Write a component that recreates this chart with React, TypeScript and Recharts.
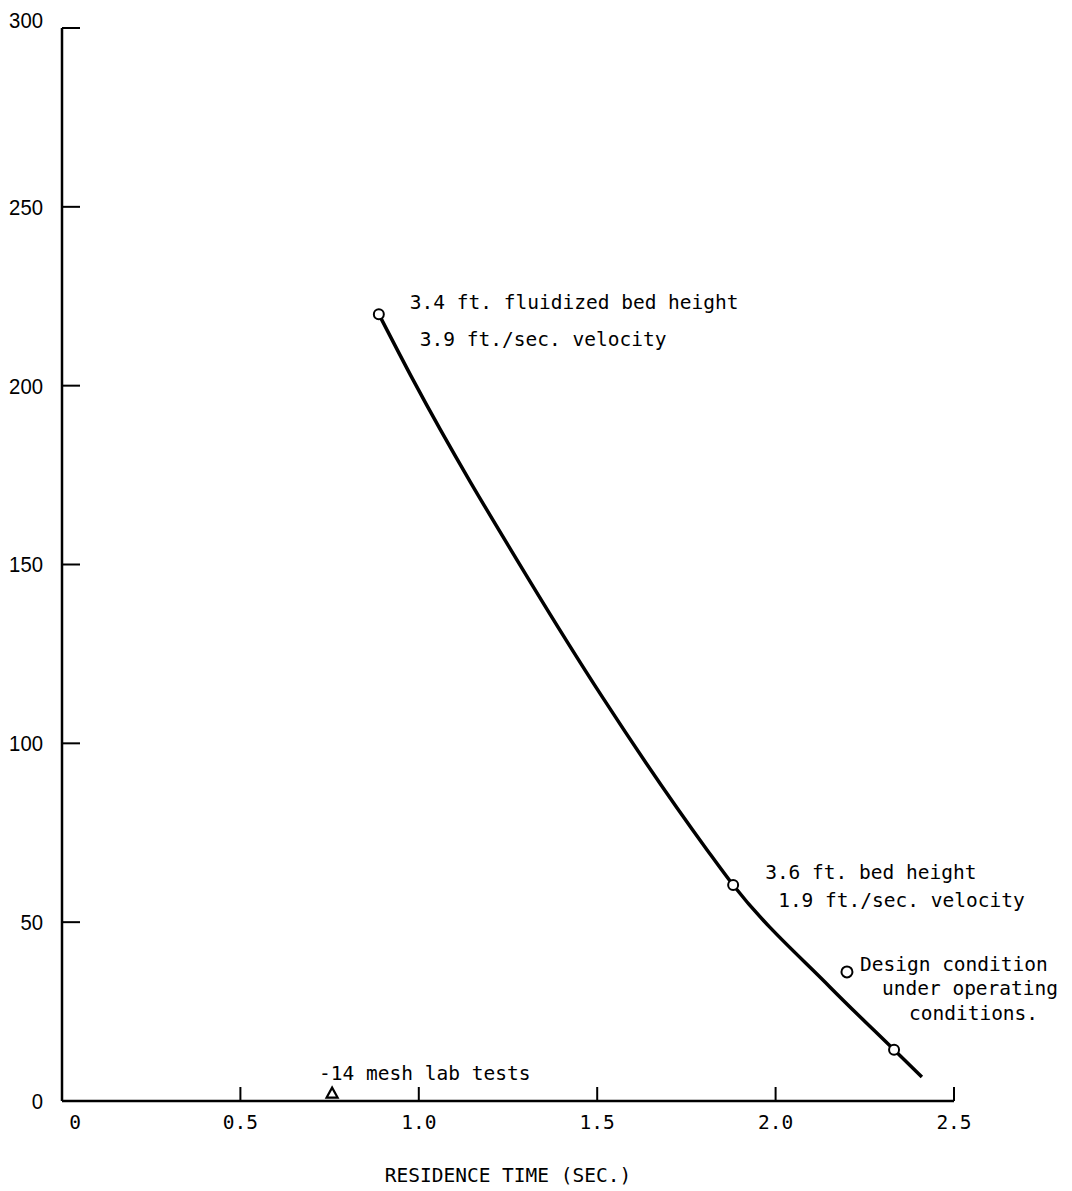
import React from "react";
import {
  ComposedChart,
  Line,
  Scatter,
  XAxis,
  YAxis,
  ReferenceDot,
} from "recharts";

// ---- data ----
const curveX = [0.888, 0.984, 1.306, 1.516, 1.808, 1.881, 2.152, 2.332, 2.41];
const curveY = [220, 201.6, 146.2, 112.7, 70.2, 60.4, 31.9, 14.3, 6.7];

const testX = [0.888, 1.881, 2.332];
const testY = [220, 60.4, 14.3];

const designX = [2.2];
const designY = [36.1];

const labX = [0.757];
const labY = [2.2];

const xTicks = [0, 0.5, 1.0, 1.5, 2.0, 2.5];
const xTickLabels = ["0", "0.5", "1.0", "1.5", "2.0", "2.5"];
const yTicks = [0, 50, 100, 150, 200, 250, 300];
const yTickLabels = ["0", "50", "100", "150", "200", "250", "300"];

const xTitle = "RESIDENCE TIME (SEC.)";

const annot1 = ["3.4 ft. fluidized bed height", "3.9 ft./sec. velocity"];
const annot2 = ["3.6 ft. bed height", "1.9 ft./sec. velocity"];
const annot3 = ["Design condition", "under operating", "conditions."];
const annot4 = ["-14 mesh lab tests"];

// ---- built tables ----
const curveData = curveX.map((x, i) => ({ x, y: curveY[i] }));
const testData = testX.map((x, i) => ({ x, y: testY[i] }));
const designData = designX.map((x, i) => ({ x, y: designY[i] }));
const labData = labX.map((x, i) => ({ x, y: labY[i] }));

const MONO = "'DejaVu Sans Mono', monospace";
const SANS = "'Liberation Sans', Arial, sans-serif";

const YTick = (props: any) => {
  const { x, y, payload } = props;
  const idx = yTicks.indexOf(payload.value);
  const label = idx >= 0 ? yTickLabels[idx] : String(payload.value);
  const dy = payload.value === 300 ? -8 : 0;
  return (
    <g>
      <line x1={x} y1={y} x2={x + 18} y2={y} stroke="#000" strokeWidth={2} />
      <text
        x={x - 19}
        y={y + dy}
        dy="0.36em"
        textAnchor="end"
        fontFamily={SANS}
        fontSize={22}
        fill="#000"
        textLength={label.length * 11.3}
        lengthAdjust="spacingAndGlyphs"
      >
        {label}
      </text>
    </g>
  );
};

const XTick = (props: any) => {
  const { x, y, payload } = props;
  const idx = xTicks.indexOf(payload.value);
  const label = idx >= 0 ? xTickLabels[idx] : String(payload.value);
  const dx = payload.value === 0 ? 13 : 0;
  return (
    <g>
      {payload.value !== 0 && (
        <line x1={x} y1={y} x2={x} y2={y - 14} stroke="#000" strokeWidth={2} />
      )}
      <text
        x={x + dx}
        y={y + 21}
        dy="0.36em"
        textAnchor="middle"
        fontFamily={MONO}
        fontSize={19.5}
        fill="#000"
      >
        {label}
      </text>
    </g>
  );
};

const makeAnnot =
  (lines: string[], offsets: { dx: number; dy: number }[]) => (props: any) => {
    const vb = props.viewBox || {};
    const cx = (vb.x || 0) + (vb.width || 0) / 2;
    const cy = (vb.y || 0) + (vb.height || 0) / 2;
    return (
      <g>
        {lines.map((t, i) => (
          <text
            key={i}
            x={cx + offsets[i].dx}
            y={cy + offsets[i].dy}
            dy="0.36em"
            textAnchor="start"
            fontFamily={MONO}
            fontSize={19.5}
            fill="#000"
          >
            {t}
          </text>
        ))}
      </g>
    );
  };

const HollowCircle = (r: number) => (props: any) => {
  const { cx, cy } = props;
  return <circle cx={cx} cy={cy} r={r} fill="#fff" stroke="#000" strokeWidth={2} />;
};

const HollowTriangle = (props: any) => {
  const { cx, cy } = props;
  const s = 5.5;
  const pts = `${cx},${cy - s} ${cx + s},${cy + s * 0.8} ${cx - s},${cy + s * 0.8}`;
  return <polygon points={pts} fill="#fff" stroke="#000" strokeWidth={2.2} />;
};

export default function App() {
  return (
    <div style={{ width: 1056, height: 1183, background: "#fff" }}>
      <ComposedChart
        width={1056}
        height={1183}
        margin={{ top: 20, right: 110, left: 4, bottom: 30 }}
      >
        <XAxis
          dataKey="x"
          type="number"
          domain={[0, 2.5]}
          ticks={xTicks}
          tick={<XTick />}
          tickLine={false}
          tickSize={0}
          tickMargin={0}
          height={60}
          axisLine={{ stroke: "#000", strokeWidth: 2.5 }}
          allowDataOverflow
          label={{
            value: xTitle,
            position: "bottom",
            offset: 7,
            fontFamily: MONO,
            fontSize: 19.5,
            fill: "#000",
          }}
        />
        <YAxis
          dataKey="y"
          type="number"
          domain={[0, 300]}
          ticks={yTicks}
          tick={<YTick />}
          tickLine={false}
          tickSize={0}
          tickMargin={0}
          width={50}
          axisLine={{ stroke: "#000", strokeWidth: 2.5 }}
          allowDataOverflow
        />
        <Line
          data={curveData}
          dataKey="y"
          type="monotone"
          stroke="#000"
          strokeWidth={3.5}
          dot={false}
          activeDot={false}
          isAnimationActive={false}
        />
        <Scatter
          data={testData}
          dataKey="y"
          shape={HollowCircle(5)}
          isAnimationActive={false}
        />
        <Scatter
          data={designData}
          dataKey="y"
          shape={HollowCircle(5.5)}
          isAnimationActive={false}
        />
        <Scatter
          data={labData}
          dataKey="y"
          shape={<HollowTriangle />}
          isAnimationActive={false}
        />
        <ReferenceDot
          x={testX[0]}
          y={testY[0]}
          r={0}
          stroke="none"
          fill="none"
          label={makeAnnot(annot1, [
            { dx: 31, dy: -12 },
            { dx: 41, dy: 25 },
          ])}
        />
        <ReferenceDot
          x={testX[1]}
          y={testY[1]}
          r={0}
          stroke="none"
          fill="none"
          label={makeAnnot(annot2, [
            { dx: 32, dy: -13 },
            { dx: 45, dy: 15 },
          ])}
        />
        <ReferenceDot
          x={designX[0]}
          y={designY[0]}
          r={0}
          stroke="none"
          fill="none"
          label={makeAnnot(annot3, [
            { dx: 13, dy: -8 },
            { dx: 35, dy: 16 },
            { dx: 62, dy: 41 },
          ])}
        />
        <ReferenceDot
          x={labX[0]}
          y={labY[0]}
          r={0}
          stroke="none"
          fill="none"
          label={makeAnnot(annot4, [{ dx: -13, dy: -20 }])}
        />
      </ComposedChart>
    </div>
  );
}
